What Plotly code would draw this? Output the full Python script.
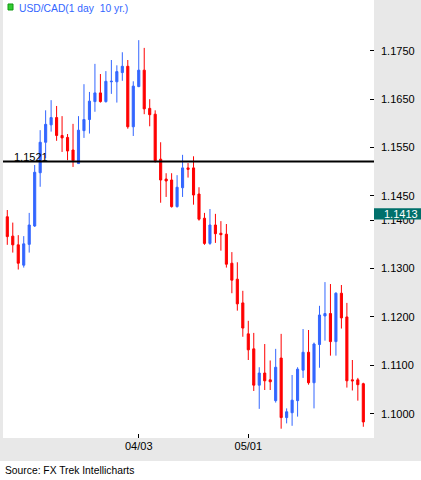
import pandas as pd
import plotly.graph_objects as go

# Daily USD/CAD candles (first bar 2007-02-28, last 2007-05-30)
dates = pd.bdate_range("2007-02-28", periods=66)

opens = [1.1407, 1.1367, 1.1349, 1.1307, 1.1350, 1.1388, 1.1498, 1.1561, 1.1597, 1.1612,
         1.1575, 1.1571, 1.1545, 1.1517, 1.1585, 1.1608, 1.1645, 1.1663, 1.1645, 1.1686,
         1.1686, 1.1705, 1.1718, 1.1593, 1.1676, 1.1710, 1.1631, 1.1619, 1.1526, 1.1485,
         1.1483, 1.1428, 1.1467, 1.1508, 1.1508, 1.1454, 1.1404, 1.1352, 1.1390, 1.1373,
         1.1371, 1.1311, 1.1278, 1.1229, 1.1165, 1.1134, 1.1059, 1.1084, 1.1070, 1.1027,
         1.1115, 1.0992, 1.1002, 1.1027, 1.1090, 1.1127, 1.1064, 1.1143, 1.1202, 1.1207,
         1.1149, 1.1249, 1.1200, 1.1070, 1.1070, 1.1062]
highs = [1.1421, 1.1395, 1.1369, 1.1367, 1.1415, 1.1514, 1.1586, 1.1627, 1.1648, 1.1636,
         1.1615, 1.1578, 1.1599, 1.1615, 1.1681, 1.1665, 1.1723, 1.1702, 1.1708, 1.1731,
         1.1720, 1.1747, 1.1731, 1.1687, 1.1772, 1.1756, 1.1650, 1.1627, 1.1561, 1.1497,
         1.1497, 1.1493, 1.1535, 1.1518, 1.1532, 1.1468, 1.1415, 1.1423, 1.1413, 1.1398,
         1.1392, 1.1334, 1.1313, 1.1254, 1.1192, 1.1167, 1.1096, 1.1144, 1.1110, 1.1134,
         1.1165, 1.1011, 1.1080, 1.1096, 1.1175, 1.1173, 1.1147, 1.1223, 1.1272, 1.1268,
         1.1251, 1.1266, 1.1229, 1.1111, 1.1074, 1.1064]
lows = [1.1349, 1.1333, 1.1298, 1.1302, 1.1333, 1.1386, 1.1469, 1.1528, 1.1583, 1.1564,
        1.1541, 1.1524, 1.1510, 1.1516, 1.1570, 1.1579, 1.1624, 1.1643, 1.1643, 1.1661,
        1.1643, 1.1688, 1.1589, 1.1574, 1.1675, 1.1619, 1.1594, 1.1519, 1.1436, 1.1448,
        1.1426, 1.1426, 1.1448, 1.1488, 1.1432, 1.1399, 1.1349, 1.1349, 1.1353, 1.1337,
        1.1302, 1.1249, 1.1213, 1.1159, 1.1111, 1.1047, 1.1010, 1.1049, 1.1049, 1.1023,
        1.0969, 1.0980, 1.0975, 1.0994, 1.1074, 1.1060, 1.1011, 1.1095, 1.1151, 1.1120,
        1.1120, 1.1176, 1.1054, 1.1048, 1.1027, 1.0973]
closes = [1.1366, 1.1349, 1.1311, 1.1351, 1.1390, 1.1499, 1.1561, 1.1598, 1.1612, 1.1575,
          1.1570, 1.1543, 1.1523, 1.1586, 1.1608, 1.1646, 1.1663, 1.1645, 1.1687, 1.1687,
          1.1707, 1.1718, 1.1593, 1.1677, 1.1710, 1.1630, 1.1618, 1.1523, 1.1483, 1.1481,
          1.1428, 1.1468, 1.1508, 1.1505, 1.1452, 1.1402, 1.1352, 1.1390, 1.1372, 1.1370,
          1.1309, 1.1276, 1.1227, 1.1177, 1.1132, 1.1059, 1.1084, 1.1068, 1.1066, 1.1096,
          1.0992, 1.1004, 1.1028, 1.1092, 1.1127, 1.1064, 1.1144, 1.1204, 1.1207, 1.1149,
          1.1249, 1.1198, 1.1068, 1.1068, 1.1060, 1.0983]

y_ticks = [1.1000, 1.1100, 1.1200, 1.1300, 1.1400, 1.1450, 1.1550, 1.1650, 1.1750]
x_ticks = ["2007-04-03", "2007-05-01"]
x_labels = ["04/03", "05/01"]

ref_level = 1.1521
last_price = 1.1413

UP = "#3366ff"
DOWN = "#ff0000"
PANEL = "#e8e8e8"
FONT = "Liberation Sans"

fig = go.Figure(go.Candlestick(
    x=dates, open=opens, high=highs, low=lows, close=closes,
    increasing=dict(line=dict(color=UP, width=1), fillcolor=UP),
    decreasing=dict(line=dict(color=DOWN, width=1), fillcolor=DOWN),
    whiskerwidth=0, showlegend=False, hoverinfo="x+y",
))

# horizontal reference line + its label
fig.add_shape(type="line", xref="paper", x0=0, x1=1, y0=ref_level, y1=ref_level,
              line=dict(color="black", width=2))
fig.add_annotation(text=f"{ref_level:.4f}", xref="paper", x=0.024, y=ref_level,
                   xanchor="left", yanchor="bottom", yshift=-3, showarrow=False,
                   font=dict(size=11, color="black", family=FONT))

# last price tag on the right panel
fig.add_shape(type="rect", xref="paper", x0=1, x1=1.13,
              y0=last_price - 0.00118, y1=last_price + 0.00118,
              fillcolor="#00706b", line=dict(width=0))
fig.add_annotation(text=f"{last_price:.4f}", xref="paper", x=1, y=last_price,
                   xanchor="left", yanchor="middle", xshift=8, showarrow=False,
                   font=dict(size=11, color="white", family=FONT))

# legend-like title in the top left
fig.add_shape(type="rect", xref="paper", yref="paper",
              x0=0.0135, x1=0.027, y0=0.9772, y1=0.9909,
              fillcolor="#33cc33", line=dict(color="#119911", width=1))
fig.add_annotation(text="USD/CAD(1 day\u00a0 10 yr.)", xref="paper", yref="paper",
                   x=0.0377, y=0.9817, xanchor="left", yanchor="middle", showarrow=False,
                   font=dict(size=10.3, color=UP, family=FONT))

# white strip under the grey panels for the source line
fig.add_shape(type="rect", xref="paper", yref="paper", x0=-0.02, x1=1.15,
              y0=-0.12, y1=-0.0525, fillcolor="white", line=dict(width=0), layer="below")
fig.add_annotation(text="Source: FX Trek Intellicharts", xref="paper", yref="paper",
                   x=0, y=-0.0731, xanchor="left", yanchor="middle", showarrow=False,
                   font=dict(size=10.3, color="black", family=FONT))

fig.update_layout(
    width=421, height=480,
    margin=dict(l=3, r=47, t=0, b=42),
    paper_bgcolor=PANEL, plot_bgcolor="white",
    font=dict(family=FONT, size=11, color="black"),
    boxgap=0.45,
    xaxis=dict(
        range=["2007-02-27 05:10", "2007-05-31 22:50"],
        rangebreaks=[dict(bounds=["sat", "mon"])],
        rangeslider=dict(visible=False),
        tickvals=x_ticks, ticktext=x_labels,
        ticks="inside", ticklen=4, tickcolor="black",
        showgrid=False, zeroline=False, showline=False,
    ),
    yaxis=dict(
        side="right", range=[1.09498, 1.18550],
        tickvals=y_ticks, ticktext=[f"{v:.4f}" for v in y_ticks],
        ticks="inside", ticklen=4, tickcolor="black", ticklabelstandoff=6,
        showgrid=False, zeroline=False, showline=False,
    ),
)

fig.write_html("out.html", config={"displayModeBar": False},
               post_script="document.body.style.margin='0';")
